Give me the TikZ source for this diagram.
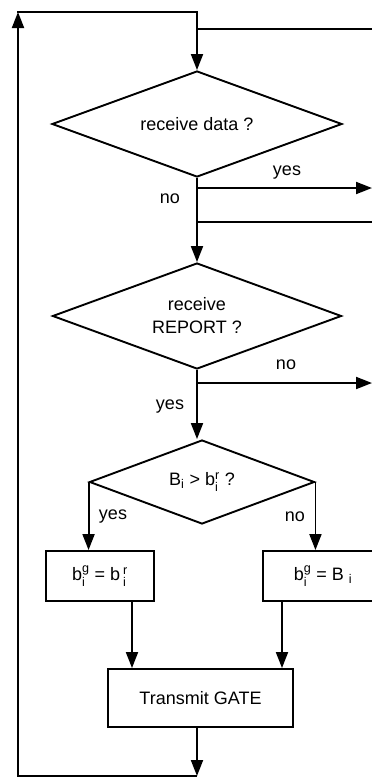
\documentclass[tikz,border=0pt]{standalone}
\usepackage{amsmath}
\usepackage{fontspec}
\setmainfont{Liberation Sans}
\usetikzlibrary{calc}
\usetikzlibrary{positioning}
\usetikzlibrary{shapes.geometric}
\usetikzlibrary{arrows.meta}

\begin{document}
\begin{tikzpicture}[x=1pt, y=-1pt, line width=1.9pt,
        font=\fontsize{18}{23}\selectfont,
        decision/.style={diamond, draw, aspect=2.7, inner sep=0pt, align=center},
        process/.style={rectangle, draw, inner sep=0pt, minimum height=50pt},
        flow/.style={-{Triangle[length=16pt,width=12pt]}},
        lbl/.style={inner sep=0pt}]

        \useasboundingbox (0,0) rectangle (372,777);

        \coordinate (topleft) at (18,12);
        \coordinate (topmid) at (197,12);
        \coordinate (botleft) at (18,776);
        \coordinate (botmid) at (197,776);
        \coordinate (in1) at (372,29);
        \coordinate (yesout) at (372,188);
        \coordinate (in2) at (372,222);
        \coordinate (noout) at (372,383);

        \node[decision, minimum width=290pt, minimum height=106pt] (recv) at (197,124) {receive data ?};
        \node[decision, minimum width=289pt, minimum height=106pt] (report) at (197,316) {receive\\REPORT ?};
        \node[decision, minimum width=225pt, minimum height=84pt] (cmp) at (202,482) {B$_{\text{i}}$ > b$_{\text{i}}^{\text{r}}$ ?};

        \node[process, minimum width=108pt] (grantr) at (100,576) {b$_{\text{i}}^{\text{g}}$ = b\,$_{\text{i}}^{\text{r}}$};
        \node[process, minimum width=120pt] (grantb) at (323,576) {b$_{\text{i}}^{\text{g}}$ = B $_{\text{i}}$};
        \node[process, minimum width=185pt, minimum height=58pt] (gate) at (200.5,698) {Transmit GATE};

        \node[lbl] (yes1) at (287,173) {yes};
        \node[lbl] (no1) at (170,199) {no};
        \node[lbl] (no2) at (286,365) {no};
        \node[lbl] (yes2) at (170,407) {yes};
        \node[lbl] (yes3) at (113,517) {yes};
        \node[lbl] (no3) at (295,517) {no};

        \path[draw, flow] (topmid) -- (recv.north);
        \path[draw] (in1) -- (in1 -| topmid);
        \path[draw, flow] (recv.south) -- (report.north);
        \path[draw, flow] (recv.south |- yesout) -- (yesout);
        \path[draw] (in2) -- (in2 -| recv.south);

        \path[draw, flow] (report.south |- noout) -- (noout);
        \path[draw, flow] (report.south) -- (report.south |- cmp.north);

        \path[draw, flow] (cmp.west) -- (cmp.west |- grantr.north);
        \path[draw, flow] (cmp.east) -- (cmp.east |- grantb.north);

        \path[draw, flow] ([xshift=32pt]grantr.south) -- ([xshift=32pt]grantr.south |- gate.north);
        \path[draw, flow] ([xshift=-41pt]grantb.south) -- ([xshift=-41pt]grantb.south |- gate.north);

        \path[draw, flow] (botmid |- gate.south) -- (botmid);
        \path[draw, flow] (botmid) -- (botleft) -- (topleft);
        \path[draw, line cap=rect] (topleft) -- (topmid);

    \end{tikzpicture}
\end{document}
